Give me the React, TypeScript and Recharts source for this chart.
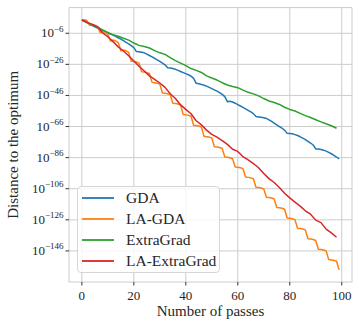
import React from 'react';
import { LineChart, Line, XAxis, YAxis, CartesianGrid, Legend } from 'recharts';

// passes for the single-pass methods (GDA, LA-GDA)
const gdaPasses = [
  0, 1, 2, 3, 4, 5, 6, 7, 8, 9, 10, 11, 12, 13, 14, 15, 16, 17, 18, 19,
  20, 21, 22, 23, 24, 25, 26, 27, 28, 29, 30, 31, 32, 33, 34, 35, 36, 37, 38, 39,
  40, 41, 42, 43, 44, 45, 46, 47, 48, 49, 50, 51, 52, 53, 54, 55, 56, 57, 58, 59,
  60, 61, 62, 63, 64, 65, 66, 67, 68, 69, 70, 71, 72, 73, 74, 75, 76, 77, 78, 79,
  80, 81, 82, 83, 84, 85, 86, 87, 88, 89, 90, 91, 92, 93, 94, 95, 96, 97, 98, 99,
];

// passes for the two-pass methods (ExtraGrad, LA-ExtraGrad)
const extraPasses = [
  0, 2, 4, 6, 8, 10, 12, 14, 16, 18, 20, 22, 24, 26, 28, 30, 32, 34, 36, 38,
  40, 42, 44, 46, 48, 50, 52, 54, 56, 58, 60, 62, 64, 66, 68, 70, 72, 74, 76, 78,
  80, 82, 84, 86, 88, 90, 92, 94, 96, 98,
];

// log10 of distance to the optimum
const gdaLog10 = [
  2.5, 1.6, 0.7, -0.2, -1.0, -1.8, -2.6, -3.4, -4.2, -5.0,
  -5.9, -6.5, -7.2, -8.0, -8.9, -9.8, -10.8, -11.8, -12.8, -13.9,
  -15.2, -17.8, -17.9, -18.2, -18.6, -19.4, -20.3, -21.2, -22.1, -23.1,
  -24.1, -25.2, -26.3, -28.2, -28.4, -28.7, -29.2, -29.9, -30.6, -31.3,
  -32.0, -32.7, -33.6, -35.0, -38.2, -38.5, -38.9, -39.4, -40.0, -40.8,
  -41.6, -42.4, -43.2, -44.2, -45.3, -46.8, -50.0, -49.7, -50.2, -51.0,
  -51.9, -52.8, -53.7, -54.6, -55.6, -56.6, -57.7, -59.6, -59.8, -60.0,
  -60.3, -60.8, -61.7, -62.7, -63.8, -64.9, -66.0, -67.1, -68.3, -70.4,
  -70.5, -70.7, -71.2, -71.8, -72.6, -73.5, -74.4, -75.5, -76.6, -77.9,
  -80.4, -80.5, -80.8, -81.2, -81.8, -82.6, -83.5, -84.5, -85.6, -86.8,
];

const laGdaLog10 = [
  2.5, 2.7, 2.0, -1.0, -0.3, -0.9, -1.8, -5.5, -4.8, -5.4,
  -6.6, -11.0, -10.3, -10.9, -12.0, -17.2, -16.8, -17.3, -18.3, -24.0,
  -24.1, -24.5, -25.2, -30.8, -31.0, -31.3, -31.9, -37.6, -37.8, -38.1,
  -38.7, -44.4, -44.6, -44.9, -45.5, -51.0, -51.2, -51.5, -52.1, -58.3,
  -58.5, -58.8, -59.4, -65.2, -65.4, -65.7, -66.3, -72.3, -72.5, -72.8,
  -73.4, -79.0, -79.2, -79.5, -80.1, -85.6, -85.8, -86.1, -86.7, -92.0,
  -92.2, -92.5, -93.1, -98.5, -98.7, -99.0, -99.6, -105.0, -105.2, -105.5,
  -106.1, -111.5, -111.7, -112.0, -112.6, -118.1, -118.3, -118.6, -119.2, -124.8,
  -125.0, -125.3, -125.9, -131.4, -131.6, -131.9, -132.5, -138.2, -138.4, -138.7,
  -139.3, -144.9, -145.1, -145.4, -146.0, -151.6, -151.8, -152.1, -152.7, -158.2,
];

const extraGradLog10 = [
  2.5, 1.0, -0.5, -2.1, -3.8, -5.4, -7.0, -7.9, -9.2, -10.4,
  -12.3, -13.8, -14.5, -15.5, -17.2, -18.6, -19.6, -21.7, -23.6, -25.2,
  -26.8, -28.7, -29.9, -31.2, -33.4, -34.8, -36.1, -37.8, -39.3, -40.2,
  -41.0, -42.6, -44.0, -45.0, -46.3, -48.0, -49.6, -50.5, -51.8, -53.6,
  -55.0, -56.0, -57.5, -59.0, -60.2, -61.6, -63.0, -64.2, -65.5, -67.1,
];

const laExtraGradLog10 = [
  2.5, 1.0, -0.3, -1.7, -5.8, -8.2, -11.4, -14.8, -17.4, -20.5,
  -23.8, -27.2, -30.3, -33.4, -35.7, -38.0, -40.8, -44.9, -48.0, -52.1,
  -55.0, -57.8, -62.3, -64.9, -68.3, -71.0, -72.8, -75.0, -77.5, -80.6,
  -82.0, -85.4, -87.5, -89.8, -92.5, -96.2, -99.5, -102.0, -105.2, -108.9,
  -111.9, -114.6, -117.2, -120.2, -122.4, -126.2, -127.8, -132.0, -134.4, -137.2,
];

const seriesNames = ['GDA', 'LA-GDA', 'ExtraGrad', 'LA-ExtraGrad'];
const seriesColors = ['#1f77b4', '#ff7f0e', '#2ca02c', '#d62728'];

const xTicks = [0, 20, 40, 60, 80, 100];
const yTickExponents = [-146, -126, -106, -86, -66, -46, -26, -6];

const build = (xs: number[], logs: number[]) =>
  xs.map((x, i) => ({ x, y: Math.pow(10, logs[i]) }));

const seriesData = [
  build(gdaPasses, gdaLog10),
  build(gdaPasses, laGdaLog10),
  build(extraPasses, extraGradLog10),
  build(extraPasses, laExtraGradLog10),
];

const yTicks = yTickExponents.map((e) => Math.pow(10, e));

const FONT = '"Liberation Serif", "Times New Roman", serif';
const TEXT = '#262626';

const XTick = (props: any) => {
  const { x, y, payload } = props;
  return (
    <text
      x={x}
      y={y + 12.5}
      textAnchor="middle"
      fill={TEXT}
      style={{ fontFamily: FONT, fontSize: 13 }}
    >
      {payload.value}
    </text>
  );
};

const YTick = (props: any) => {
  const { x, y, payload } = props;
  const e = Math.round(Math.log10(payload.value));
  return (
    <text x={x} y={y + 4} textAnchor="end" fill={TEXT} style={{ fontFamily: FONT }}>
      <tspan style={{ fontFamily: FONT, fontSize: 13 }}>10</tspan>
      <tspan dy={-5.5} style={{ fontFamily: FONT, fontSize: 9 }}>
        {'\u2212' + Math.abs(e)}
      </tspan>
    </text>
  );
};

const renderLegend = () => (
  <div
    style={{
      boxSizing: 'border-box',
      width: 143,
      height: 87,
      border: '1px solid #d6d6d6',
      borderRadius: 4,
      background: 'rgba(255,255,255,0.8)',
      position: 'relative',
      fontFamily: FONT,
      fontSize: 15.5,
      color: TEXT,
    }}
  >
    {seriesNames.map((name, i) => (
      <div key={name} style={{ position: 'absolute', left: 0, top: 0.7 + i * 21.1, height: 20, width: 143 }}>
        <svg width={40} height={20} style={{ position: 'absolute', left: 0, top: 0 }}>
          <line x1={4} x2={36} y1={10} y2={10} stroke={seriesColors[i]} strokeWidth={1.8} />
        </svg>
        <span style={{ position: 'absolute', left: 48, top: 0, lineHeight: '20px', whiteSpace: 'nowrap' }}>{name}</span>
      </div>
    ))}
  </div>
);

export default function App() {
  return (
    <div style={{ position: 'absolute', left: 0, top: 0, width: 359, height: 327 }}>
      <LineChart width={359} height={327} margin={{ top: 7.6, right: 7, bottom: 0, left: 0 }}>
        <CartesianGrid stroke="#cccccc" strokeWidth={1} />
        <XAxis
          type="number"
          dataKey="x"
          domain={[-4.95, 103.95]}
          allowDataOverflow
          ticks={xTicks}
          height={45}
          axisLine={false}
          tickSize={3.5}
          tickMargin={2}
          tickLine={{ stroke: '#333333', strokeWidth: 1 }}
          tick={<XTick />}
          label={{
            content: () => (
              <text x={210.5} y={316} textAnchor="middle" fill={TEXT} style={{ fontFamily: FONT, fontSize: 15 }}>
                Number of passes
              </text>
            ),
          }}
        />
        <YAxis
          type="number"
          dataKey="y"
          scale="log"
          domain={[1e-166, Math.pow(10, 10.5)]}
          allowDataOverflow
          ticks={yTicks}
          width={69}
          axisLine={false}
          tickSize={3.5}
          tickMargin={2}
          tickLine={{ stroke: '#333333', strokeWidth: 1 }}
          tick={<YTick />}
          label={{
            content: () => (
              <text
                x={18}
                y={144.8}
                textAnchor="middle"
                fill={TEXT}
                style={{ fontFamily: FONT, fontSize: 15 }}
                transform="rotate(-90, 18, 144.8)"
              >
                Distance to the optimum
              </text>
            ),
          }}
        />
        {seriesNames.map((name, i) => (
          <Line
            key={name}
            name={name}
            data={seriesData[i]}
            dataKey="y"
            stroke={seriesColors[i]}
            strokeWidth={1.5}
            strokeLinejoin="round"
            dot={false}
            activeDot={false}
            isAnimationActive={false}
          />
        ))}
        <Legend
          layout="vertical"
          align="center"
          verticalAlign="middle"
          content={renderLegend}
          wrapperStyle={{ position: 'absolute', left: 77, top: 186, width: 143, height: 87 }}
        />
      </LineChart>
    </div>
  );
}
